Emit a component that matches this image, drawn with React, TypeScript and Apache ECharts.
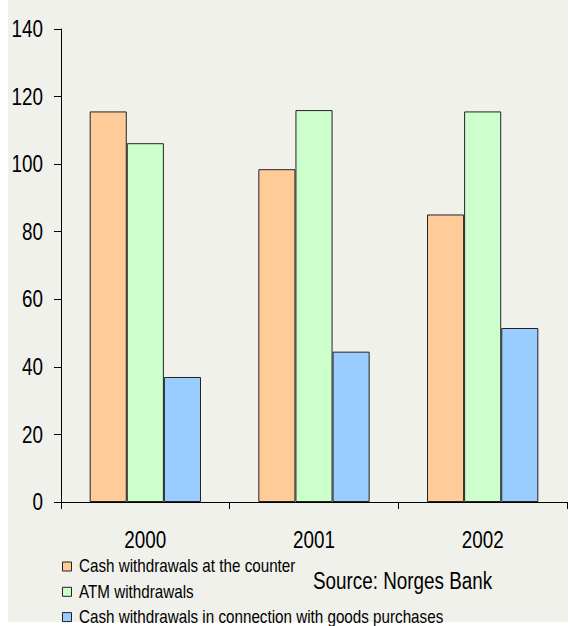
import React, { useEffect, useRef } from "react";
import * as echarts from "echarts";

// Cash withdrawals by type, millions of transactions
const years = ["2000", "2001", "2002"];
const counterWithdrawals = [115.6, 98.5, 85.1];
const atmWithdrawals = [106.2, 116.0, 115.6];
const purchaseWithdrawals = [37.0, 44.5, 51.5];
const yTicks = [0, 20, 40, 60, 80, 100, 120, 140];
const seriesNames = [
  "Cash withdrawals at the counter",
  "ATM withdrawals",
  "Cash withdrawals in connection with goods purchases",
];
const seriesColors = ["#FFCC99", "#CCFFCC", "#99CCFF"];
const sourceNote = "Source: Norges Bank";

const FONT = '"Liberation Sans", Arial, sans-serif';
// narrow type is imitated by squeezing a regular sans horizontally
const NARROW = 0.82;
const LEGEND_NARROW = 0.845;

export default function App() {
  const ref = useRef<HTMLDivElement>(null);

  useEffect(() => {
    if (!ref.current) return;
    const chart = echarts.init(ref.current, undefined, { renderer: "svg" });
    const values = [counterWithdrawals, atmWithdrawals, purchaseWithdrawals];

    chart.setOption({
      animation: false,
      backgroundColor: "#ffffff",
      textStyle: { fontFamily: FONT },
      grid: { left: 61, right: 4, top: 29, bottom: 124, containLabel: false },
      xAxis: {
        type: "category",
        data: years,
        axisLine: { lineStyle: { color: "#000", width: 1 } },
        axisTick: { show: true, length: 7, lineStyle: { color: "#000" } },
        axisLabel: { show: false },
      },
      yAxis: {
        type: "value",
        min: yTicks[0],
        max: yTicks[yTicks.length - 1],
        interval: 20,
        splitLine: { show: false },
        axisLine: { show: true, lineStyle: { color: "#000", width: 1 } },
        axisTick: { show: true, length: 7, lineStyle: { color: "#000" } },
        axisLabel: { show: false },
      },
      series: seriesNames.map((name, i) => ({
        name,
        type: "bar",
        data: values[i],
        barGap: "0%",
        barCategoryGap: "34%",
        itemStyle: { color: seriesColors[i], borderColor: "#222", borderWidth: 1 },
      })),
    });

    const narrowText = (
      text: string,
      x: number,
      y: number,
      fontSize: number,
      align: "left" | "center" | "right",
      squeeze: number = NARROW
    ) => ({
      type: "text",
      x,
      y,
      scaleX: squeeze,
      silent: true,
      style: {
        text,
        fontFamily: FONT,
        fontSize,
        fill: "#000",
        align,
        verticalAlign: "middle",
      },
    });

    const elements: any[] = [
      {
        type: "rect",
        z: -10,
        silent: true,
        shape: { x: 8, y: 0, width: 560, height: 622 },
        style: { fill: "#F1F1EC" },
      },
    ];

    // value axis labels placed through the axis scale
    yTicks.forEach((v) => {
      const py = chart.convertToPixel({ yAxisIndex: 0 }, v) as number;
      elements.push(narrowText(String(v), 43, py, 23, "right"));
    });

    // category labels under each group
    years.forEach((yr) => {
      const px = chart.convertToPixel({ xAxisIndex: 0 }, yr) as number;
      elements.push(narrowText(yr, px, 539.5, 23, "center"));
    });

    // legend
    seriesNames.forEach((name, i) => {
      const cy = 566.5 + i * 25.3;
      elements.push({
        type: "rect",
        silent: true,
        shape: { x: 62.5, y: cy - 4.5, width: 9, height: 9 },
        style: { fill: seriesColors[i], stroke: "#222", lineWidth: 1 },
      });
      elements.push(narrowText(name, 79, cy, 18, "left", LEGEND_NARROW));
    });

    elements.push(narrowText(sourceNote, 313, 580.5, 23, "left"));

    chart.setOption({ graphic: elements });

    return () => chart.dispose();
  }, []);

  return (
    <div
      ref={ref}
      style={{ position: "absolute", left: 0, top: 0, width: 571, height: 626 }}
    />
  );
}
